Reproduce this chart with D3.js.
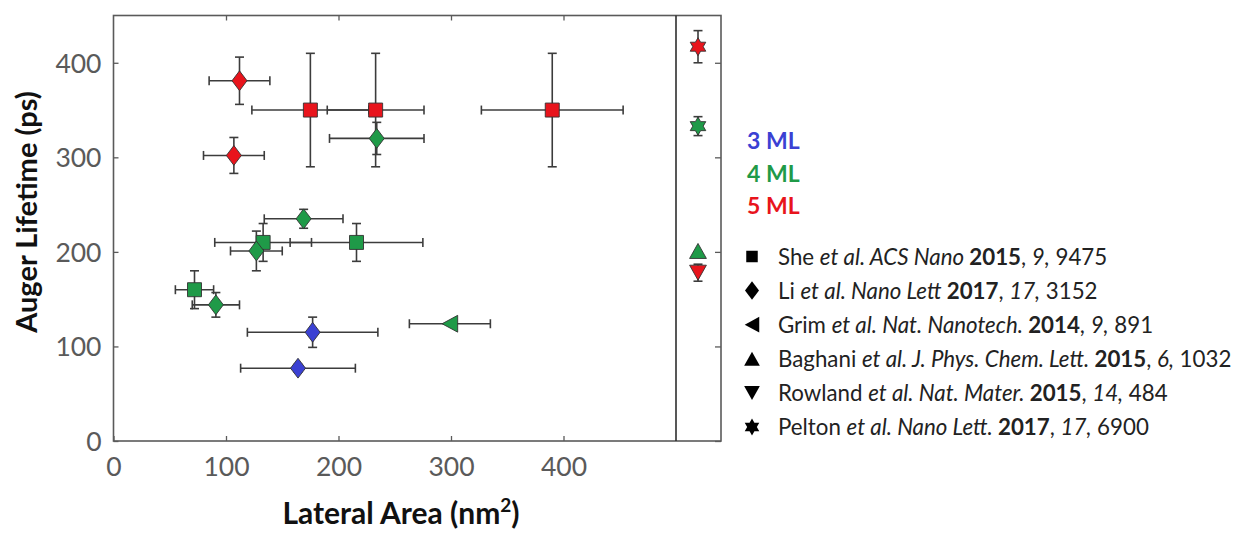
<!DOCTYPE html>
<html>
<head>
<meta charset="utf-8">
<script src="https://cdn.jsdelivr.net/npm/d3@7"></script>
<style>
  body { margin: 0; background: #fff; }
  svg { display: block; font-family: Lato, "Open Sans", sans-serif; }
</style>
</head>
<body>
<svg id="chart" width="1241" height="535"></svg>
<script>
// Auger lifetime of CdSe nanoplatelets versus lateral area, coloured by thickness.

const thicknessLabels = ["3 ML", "4 ML", "5 ML"];
const thicknessLevels = [3, 4, 5];
const thicknessColors = ["#3b41d3", "#1f9a48", "#e8141c"];

// [area (nm²), area error, lifetime (ps), lifetime error, monolayers]
const sheData = [
  [175, 52, 350, 60, 5],
  [233, 43, 350, 60, 5],
  [390, 63, 350, 60, 5],
  [133, 43, 210, 20, 4],
  [216, 59, 210, 20, 4],
  [72, 17, 160, 20, 4]
];
const liData = [
  [112, 27, 381, 25, 5],
  [107, 27, 302, 19, 5],
  [234, 42, 320, 17, 4],
  [169, 35, 235, 10, 4],
  [127, 23, 201, 21, 4],
  [91, 21, 144, 13, 4],
  [177, 58, 115, 16, 3],
  [164, 51, 77, 4, 3]
];
const grimData = [
  [299, 36, 124, 0, 4]
];

// Studies without a reported lateral area, shown in the side column:
// [lifetime (ps), lifetime error, monolayers]
const baghaniData = [[201, 0, 4]];
const rowlandData = [[178, 9, 5]];
const peltonData = [[417, 17, 5], [333, 10, 4]];

const xTicks = [0, 100, 200, 300, 400];
const yTicks = [0, 100, 200, 300, 400];

// Legend entries: symbol + citation split into [text, style] runs (n = normal, i = italic, b = bold)
const references = [
  { symbol: "square",   runs: [["She ", "n"], ["et al. ACS Nano ", "i"], ["2015", "b"], [", ", "n"], ["9,", "i"], [" 9475", "n"]] },
  { symbol: "diamond",  runs: [["Li ", "n"], ["et al. Nano Lett ", "i"], ["2017", "b"], [", ", "n"], ["17,", "i"], [" 3152", "n"]] },
  { symbol: "left",     runs: [["Grim ", "n"], ["et al. Nat. Nanotech. ", "i"], ["2014", "b"], [", ", "n"], ["9,", "i"], [" 891", "n"]] },
  { symbol: "up",       runs: [["Baghani ", "n"], ["et al. J. Phys. Chem. Lett. ", "i"], ["2015", "b"], [", ", "n"], ["6,", "i"], [" 1032", "n"]] },
  { symbol: "down",     runs: [["Rowland ", "n"], ["et al. Nat. Mater. ", "i"], ["2015", "b"], [", ", "n"], ["14,", "i"], [" 484", "n"]] },
  { symbol: "hexagram", runs: [["Pelton ", "n"], ["et al. Nano Lett. ", "i"], ["2017", "b"], [", ", "n"], ["17,", "i"], [" 6900", "n"]] }
];

// ---- layout ----
const svg = d3.select("#chart");
const fontStack = 'Lato, "Open Sans", sans-serif';
const frame = { left: 113.5, top: 15.5, bottom: 441, divider: 676, right: 721 };

const x = d3.scaleLinear().domain([0, 500]).range([frame.left, frame.divider]);
const y = d3.scaleLinear().domain([0, 450]).range([frame.bottom, frame.top]);
const sideX = d3.scaleBand().domain(["side"]).range([frame.divider, frame.right]);
const color = d3.scaleOrdinal().domain(thicknessLevels).range(thicknessColors);

const axisColor = "#5a5a5a";
const barColor = "#3c3c3c";

// ---- marker shapes ----
function shapePath(kind, s) {
  const p = d3.path();
  if (kind === "square") {
    p.rect(-s / 2, -s / 2, s, s);
  } else if (kind === "diamond") {
    const w = s * 0.5, h = s * 0.66;
    p.moveTo(0, -h); p.lineTo(w, 0); p.lineTo(0, h); p.lineTo(-w, 0); p.closePath();
  } else if (kind === "left") {
    const w = s * 0.52, h = s * 0.56;
    p.moveTo(-w, 0); p.lineTo(w, -h); p.lineTo(w, h); p.closePath();
  } else if (kind === "up") {
    const w = s * 0.56, h = s * 0.5;
    p.moveTo(0, -h); p.lineTo(w, h); p.lineTo(-w, h); p.closePath();
  } else if (kind === "down") {
    const w = s * 0.56, h = s * 0.5;
    p.moveTo(0, h); p.lineTo(w, -h); p.lineTo(-w, -h); p.closePath();
  } else if (kind === "hexagram") {
    const R = s * 0.6, r = R / Math.sqrt(3);
    for (let k = 0; k < 12; k++) {
      const a = -Math.PI / 2 + k * Math.PI / 6;
      const rad = k % 2 === 0 ? R : r;
      const px = rad * Math.cos(a), py = rad * Math.sin(a);
      if (k === 0) p.moveTo(px, py); else p.lineTo(px, py);
    }
    p.closePath();
  }
  return p.toString();
}

// ---- frame, divider and ticks ----
const axes = svg.append("g");

axes.append("g")
  .attr("transform", `translate(${frame.left},0)`)
  .call(d3.axisLeft(y).tickValues(yTicks).tickSize(-5).tickPadding(12))
  .attr("font-family", fontStack)
  .call(g => g.select(".domain").remove())
  .call(g => g.selectAll("line").attr("stroke", axisColor).attr("stroke-width", 1.3))
  .call(g => g.selectAll("text").attr("fill", axisColor).attr("font-size", 26.5).attr("dy", "0.36em"));

axes.append("g")
  .attr("transform", `translate(0,${frame.bottom})`)
  .call(d3.axisBottom(x).tickValues(xTicks).tickSize(-5).tickPadding(16))
  .attr("font-family", fontStack)
  .call(g => g.select(".domain").remove())
  .call(g => g.selectAll("line").attr("stroke", axisColor).attr("stroke-width", 1.3))
  .call(g => g.selectAll("text").attr("fill", axisColor).attr("font-size", 26.5).attr("dy", "0.71em"));

axes.append("g")
  .attr("transform", `translate(0,${frame.top})`)
  .call(d3.axisTop(x).tickValues(xTicks.slice(1)).tickSize(-5).tickFormat(""))
  .call(g => g.select(".domain").remove())
  .call(g => g.selectAll("line").attr("stroke", axisColor).attr("stroke-width", 1.3));

axes.append("g")
  .attr("transform", `translate(${frame.right},0)`)
  .call(d3.axisRight(y).tickValues(yTicks).tickSize(-6).tickFormat(""))
  .call(g => g.select(".domain").remove())
  .call(g => g.selectAll("line").attr("stroke", axisColor).attr("stroke-width", 1.3));

axes.append("rect")
  .attr("x", frame.left).attr("y", frame.top)
  .attr("width", frame.right - frame.left).attr("height", frame.bottom - frame.top)
  .attr("fill", "none").attr("stroke", axisColor).attr("stroke-width", 1.6);

axes.append("line")
  .attr("x1", frame.divider).attr("x2", frame.divider)
  .attr("y1", frame.top).attr("y2", frame.bottom)
  .attr("stroke", "#2e2e2e").attr("stroke-width", 1.6);

// ---- axis titles ----
svg.append("text")
  .attr("x", 401).attr("y", 524)
  .attr("text-anchor", "middle")
  .attr("font-size", 30).attr("font-weight", "bold").attr("fill", "#111")
  .call(t => {
    t.append("tspan").text("Lateral Area (nm");
    t.append("tspan").attr("font-size", 19).attr("dy", -12).text("2");
    t.append("tspan").attr("dy", 12).text(")");
  });

svg.append("text")
  .attr("transform", "translate(37,212) rotate(-90)")
  .attr("text-anchor", "middle")
  .attr("font-size", 29).attr("font-weight", "bold").attr("fill", "#111")
  .text("Auger Lifetime (ps)");

// ---- data points ----
const mainPoints = [
  ...sheData.map(d => ({ shape: "square", size: 14, x: d[0], xe: d[1], y: d[2], ye: d[3], ml: d[4] })),
  ...liData.map(d => ({ shape: "diamond", size: 15, x: d[0], xe: d[1], y: d[2], ye: d[3], ml: d[4] })),
  ...grimData.map(d => ({ shape: "left", size: 15, x: d[0], xe: d[1], y: d[2], ye: d[3], ml: d[4] }))
];
const cx = sideX("side") + sideX.bandwidth() / 2 - 0.5;
const sidePoints = [
  ...baghaniData.map(d => ({ shape: "up", size: 15, y: d[0], ye: d[1], ml: d[2] })),
  ...rowlandData.map(d => ({ shape: "down", size: 15, y: d[0], ye: d[1], ml: d[2] })),
  ...peltonData.map(d => ({ shape: "hexagram", size: 15, y: d[0], ye: d[1], ml: d[2] }))
];

const bars = svg.append("g").attr("stroke", barColor).attr("stroke-width", 1.6).attr("fill", "none");
const cap = 4.5;

function drawBars(g, px, py, x0, x1, y0, y1) {
  if (x0 !== null) {
    g.append("line").attr("x1", x0).attr("x2", x1).attr("y1", py).attr("y2", py);
    g.append("line").attr("x1", x0).attr("x2", x0).attr("y1", py - cap).attr("y2", py + cap);
    g.append("line").attr("x1", x1).attr("x2", x1).attr("y1", py - cap).attr("y2", py + cap);
  }
  if (y0 !== null) {
    g.append("line").attr("x1", px).attr("x2", px).attr("y1", y0).attr("y2", y1);
    g.append("line").attr("x1", px - cap).attr("x2", px + cap).attr("y1", y0).attr("y2", y0);
    g.append("line").attr("x1", px - cap).attr("x2", px + cap).attr("y1", y1).attr("y2", y1);
  }
}

mainPoints.forEach(d => {
  drawBars(bars, x(d.x), y(d.y),
    d.xe ? x(d.x - d.xe) : null, d.xe ? x(d.x + d.xe) : null,
    d.ye ? y(d.y - d.ye) : null, d.ye ? y(d.y + d.ye) : null);
});
sidePoints.forEach(d => {
  drawBars(bars, cx, y(d.y), null, null,
    d.ye ? y(d.y - d.ye) : null, d.ye ? y(d.y + d.ye) : null);
});

const marks = svg.append("g");
marks.selectAll("path.main")
  .data(mainPoints)
  .join("path")
  .attr("class", "main")
  .attr("transform", d => `translate(${x(d.x)},${y(d.y)})`)
  .attr("d", d => shapePath(d.shape, d.size))
  .attr("fill", d => color(d.ml))
  .attr("stroke", "#333").attr("stroke-width", 0.9);

marks.selectAll("path.side")
  .data(sidePoints)
  .join("path")
  .attr("class", "side")
  .attr("transform", d => `translate(${cx},${y(d.y)})`)
  .attr("d", d => shapePath(d.shape, d.size))
  .attr("fill", d => color(d.ml))
  .attr("stroke", "#333").attr("stroke-width", 0.9);

// ---- legend: thickness colours ----
const legend = svg.append("g");
legend.selectAll("text.ml")
  .data(thicknessLabels)
  .join("text")
  .attr("class", "ml")
  .attr("x", 747)
  .attr("y", (d, i) => 149 + i * 32.5)
  .attr("font-size", 23).attr("font-weight", "bold")
  .attr("fill", (d, i) => thicknessColors[i])
  .text(d => d);

// ---- legend: references ----
const refRows = legend.selectAll("g.ref")
  .data(references)
  .join("g")
  .attr("class", "ref")
  .attr("transform", (d, i) => `translate(0,${256.5 + i * 34.1})`);

refRows.append("path")
  .attr("transform", "translate(752,0)")
  .attr("d", d => shapePath(d.symbol, d.symbol === "square" ? 11.5 : 14))
  .attr("fill", "#000");

refRows.append("text")
  .attr("x", 778).attr("y", 8)
  .attr("font-size", 22.3).attr("fill", "#222")
  .each(function (d) {
    const t = d3.select(this);
    d.runs.forEach(([txt, st]) => {
      t.append("tspan")
        .attr("font-style", st === "i" ? "italic" : "normal")
        .attr("font-weight", st === "b" ? "bold" : "normal")
        .text(txt);
    });
  });
</script>
</body>
</html>
